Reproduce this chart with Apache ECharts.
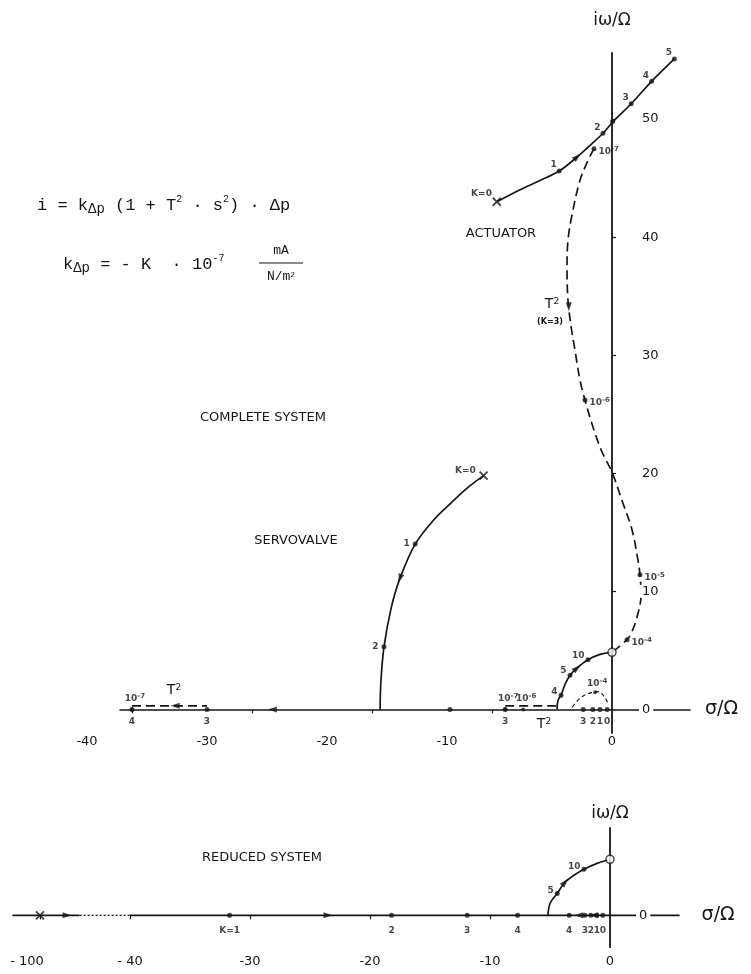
<!DOCTYPE html>
<html><head><meta charset="utf-8">
<script src="https://cdn.jsdelivr.net/npm/echarts@6/dist/echarts.min.js"></script>
<style>html,body{margin:0;padding:0;background:#fff}#c{width:751px;height:974px}</style>
</head><body><div id="c"></div>
<script>
// ================= DATA (σ/Ω , ω/Ω) =================
// ---- Complete system (upper diagram) ----
const actuatorLocus = [[-9.6,43.0],[-7.7,44.0],[-6.0,44.8],[-4.4,45.6],[-2.9,46.8],[-1.8,47.8],[-0.75,48.8],[0.1,49.8],[1.6,51.3],[3.3,53.2],[5.2,55.1]];
const actuatorPole = [[-9.6,43.0]];
const actuatorK = [['1',-4.4,45.6],['2',-0.75,48.8],['3',1.6,51.3],['4',3.3,53.2],['5',5.2,55.1]];
const actuatorCross = [[0.05,49.8]];
const t2Locus = [[-1.5,47.5],[-2.0,46.5],[-2.67,44.8],[-3.33,41.9],[-3.67,39.7],[-3.75,37.2],[-3.67,34.7],[-3.42,32.5],[-3.08,30.4],[-2.67,27.9],[-2.25,26.2],[-1.58,23.9],[-0.83,21.8],[0,20.1],[0.83,17.7],[1.67,15.2],[2.17,12.6],[2.33,11.4],[2.42,9.7],[2.08,7.8],[1.58,6.4],[1.25,5.9],[0,4.83]];
const t2Marks = [['-7',-1.5,47.5],['-6',-2.25,26.2],['-5',2.33,11.4],['-4',1.25,5.9]];
const servoLocus = [[-10.7,19.8],[-12.0,18.8],[-13.4,17.5],[-14.9,16.0],[-16.4,14.0],[-17.67,11.1],[-18.4,8.6],[-19.0,5.3],[-19.25,2.5],[-19.33,0]];
const servoPole = [[-10.7,19.8]];
const servoK = [['1',-16.4,14.0],['2',-19.0,5.3]];
const innerLocus = [[-4.58,0],[-4.5,0.76],[-4.25,1.2],[-3.92,2.1],[-3.5,2.9],[-2.92,3.5],[-2.0,4.2],[-1.0,4.66],[0,4.83]];
const innerK = [['4',-4.25,1.2],['5',-3.5,2.9],['10',-2.0,4.2]];
const completeZero = [[0,4.83]];
const realAxisK = [['4',-40],['3',-33.75],['',-13.5],['3',-8.9],['3',-2.4],['2',-1.6],['1',-1.0],['0',-0.4]];
const realAxisT2 = [['-7',-40],['-7',-8.9],['-6',-7.4]];
const t2RealLeft = [[-40,0.3],[-33.75,0.3]];
const t2RealMid = [[-8.9,0.3],[-4.6,0.3]];
const t2NearOrigin = [[-3.3,0.2],[-2.6,1.0],[-1.8,1.4],[-1.1,1.5],[-0.6,1.0],[-0.25,0.35]];
const t2NearMark = [['-4',-1.4,1.45]];
// arrows: [σ, ω, direction in degrees]
const completeArrows = [[-2.9,46.8,41],[-3.6,34.1,-90],[-17.67,11.1,250],[-2.92,3.5,40],[-28.3,0,180],[-36.4,0.3,180]];
const completeXTicks = [-40,-30,-20,-10,0];
const completeYTicks = [0,10,20,30,40,50];

// ---- Reduced system (lower diagram) ----
const reducedPole = [-100];
const reducedLocus = [[-5.17,0],[-5.0,1.0],[-4.4,1.86],[-3.75,2.8],[-3.0,3.4],[-2.17,3.9],[-1.08,4.4],[0,4.75]];
const reducedK = [['5',-4.4,1.86],['10',-2.17,3.9]];
const reducedRealK = [['K=1',-31.7],['2',-18.2],['3',-11.9],['4',-7.7],['4',-3.4],['3',-2.1],['2',-1.6],['1',-1.1],['0',-0.6]];
const reducedZero = [[0,4.75]];
const reducedArrows = [[-82,0,0],[-23.5,0,0],[-3.75,2.8,50],[-2.6,0,180],[-1.35,0,180]];
const reducedXTicks = [-100,-40,-30,-20,-10,0];
const reducedXTickText = ['- 100','- 40','-30','-20','-10','0'];

// ================= CHART =================
const ink = '#161616';
const SANS = 'DejaVu Sans';
const MONO = 'Liberation Mono';
// broken σ-axis of the reduced system: values below -40 are compressed
const BRK = -40, BRK_SCALE = 0.125;
const brk = s => s >= BRK ? s : BRK + (s - BRK) * BRK_SCALE;
const LOW_MIN = -49.8, LOW_MAX = 5.8, LOW_DOT_START = -44.2;

// grid geometry (px) and axis ranges
const UP = { left: 120, top: 53, width: 570, height: 680, xmin: -41, xmax: 6.5, ymin: -2, ymax: 55.6 };
const LO = { left: 12.4, top: 828, width: 667.2, height: 119.2, xmin: LOW_MIN, xmax: LOW_MAX, ymin: -2.7, ymax: 7.4 };
// offsets that put the axes through the origin
const xOff = g => -(g.height * (0 - g.ymin) / (g.ymax - g.ymin));
const yOff = g => -(g.width * (g.xmax - 0) / (g.xmax - g.xmin));

const supRich = { s: { fontSize: 7, lineHeight: 7, verticalAlign: 'top', fontFamily: SANS, fontWeight: 'bold', color: ink } };

function line(data, g, dashed, z) {
  return { type: 'line', data, xAxisIndex: g, yAxisIndex: g, symbol: 'none', smooth: 0.35, silent: true,
    lineStyle: { color: ink, width: 1.7, type: dashed ? [9, 5] : 'solid' }, z: z || 3 };
}
function dots(items, g, label, extra) {
  return Object.assign({
    type: 'scatter', xAxisIndex: g, yAxisIndex: g, symbol: 'circle', symbolSize: 5,
    itemStyle: { color: ink }, z: 6, silent: true,
    data: items,
    label: Object.assign({ show: true, color: ink, fontFamily: SANS, fontWeight: 'bold', fontSize: 9, lineHeight: 12,
      formatter: p => p.data.t, rich: supRich }, label || {})
  }, extra || {});
}
const kItems = arr => arr.map(d => ({ value: [d[1], d[2]], t: d[0] }));
const powItems = arr => arr.map(d => ({ value: [d[1], d[2]], t: '10{s|' + d[0] + '}' }));
function arrows(arr, g, map) {
  return { type: 'scatter', xAxisIndex: g, yAxisIndex: g, symbol: 'triangle', symbolSize: [6, 9], silent: true,
    itemStyle: { color: ink }, z: 6,
    data: arr.map(a => ({ value: [map ? map(a[0]) : a[0], a[1]], symbolRotate: a[2] - 90 })) };
}
const crossSym = 'path://M0 0 L10 10 M10 0 L0 10';
function pole(data, g, text, label) {
  return { type: 'scatter', xAxisIndex: g, yAxisIndex: g, symbol: crossSym, symbolSize: 8, silent: true,
    itemStyle: { color: 'rgba(0,0,0,0)', borderColor: ink, borderWidth: 1.8 }, z: 7,
    data: data.map(d => ({ value: d, t: text })),
    label: Object.assign({ show: !!text, color: ink, fontFamily: SANS, fontWeight: 'bold', fontSize: 9, formatter: p => p.data.t }, label || {}) };
}
function zero(data, g) {
  return { type: 'scatter', xAxisIndex: g, yAxisIndex: g, symbol: 'circle', symbolSize: 8, silent: true,
    itemStyle: { color: '#fff', borderColor: ink, borderWidth: 1.5 }, z: 12, data };
}

const lowTickVals = reducedXTicks.map(brk);
const lowTickText = v => {
  const i = lowTickVals.findIndex(t => Math.abs(t - v) < 1e-6);
  if (i < 0) return '';
  return i === 0 ? '{m|' + reducedXTickText[i] + '}' : reducedXTickText[i];
};

const axisFont = { color: ink, fontFamily: SANS, fontSize: 13 };
const gridOf = g => ({ left: g.left, top: g.top, width: g.width, height: g.height, containLabel: false, outerBoundsMode: 'none' });
const titleStyle = (x, y, text) => ({ type: 'text', x, y, style: { text, fill: ink, fontFamily: SANS, fontSize: 13, align: 'center', verticalAlign: 'middle' } });
const tSquared = (x, y) => ({ type: 'text', x, y, style: { text: 'T{p|2}', fill: ink, fontFamily: SANS, fontSize: 14, align: 'center', verticalAlign: 'middle',
  rich: { p: { fontFamily: SANS, fontSize: 9, lineHeight: 9, verticalAlign: 'top' } } } });

const option = {
  animation: false,
  backgroundColor: '#fff',
  grid: [gridOf(UP), gridOf(LO)],
  xAxis: [
    { gridIndex: 0, type: 'value', min: UP.xmin, max: UP.xmax, position: 'bottom', offset: xOff(UP),
      axisLine: { onZero: false, lineStyle: { color: ink, width: 1.6 } },
      axisTick: { show: true, customValues: [-40, -30, -20, -10], length: 4, lineStyle: { color: ink, width: 1.2 } },
      axisLabel: Object.assign({ customValues: completeXTicks, margin: 26,
        formatter: v => v === 0 ? '0' : '{a|' + v + '}',
        rich: { a: Object.assign({ padding: [0, 90, 0, 0] }, axisFont) } }, axisFont),
      splitLine: { show: false },
      name: 'σ/Ω', nameLocation: 'end', nameGap: 15,
      nameTextStyle: { color: ink, fontFamily: SANS, fontSize: 19 } },
    { gridIndex: 1, type: 'value', min: LO.xmin, max: LO.xmax, position: 'bottom', offset: xOff(LO),
      axisLine: { show: false, onZero: false },
      axisTick: { show: true, customValues: lowTickVals.filter(v => v !== 0), length: 4, lineStyle: { color: ink, width: 1.2 } },
      axisLabel: Object.assign({ customValues: lowTickVals, margin: 40, formatter: lowTickText,
        rich: { m: Object.assign({ padding: [0, 26, 0, 0] }, axisFont) } }, axisFont),
      splitLine: { show: false },
      name: 'σ/Ω', nameLocation: 'end', nameGap: 22,
      nameTextStyle: { color: ink, fontFamily: SANS, fontSize: 19 } }
  ],
  yAxis: [
    { gridIndex: 0, type: 'value', min: UP.ymin, max: UP.ymax, z: 10, position: 'right', offset: yOff(UP),
      axisLine: { onZero: false, lineStyle: { color: ink, width: 1.8 } },
      axisTick: { show: true, customValues: [10, 20, 30, 40, 50], length: 4, lineStyle: { color: ink, width: 1.2 } },
      axisLabel: Object.assign({ customValues: completeYTicks, margin: 27,
        backgroundColor: '#fff', padding: [0, 3] }, axisFont),
      splitLine: { show: false },
      name: 'iω/Ω', nameLocation: 'end', nameGap: 24,
      nameTextStyle: { color: ink, fontFamily: SANS, fontSize: 17, align: 'center', verticalAlign: 'bottom' } },
    { gridIndex: 1, type: 'value', min: LO.ymin, max: LO.ymax, z: 10, position: 'right', offset: yOff(LO),
      axisLine: { onZero: false, lineStyle: { color: ink, width: 1.8 } },
      axisTick: { show: false },
      axisLabel: Object.assign({ customValues: [0], margin: 26,
        backgroundColor: '#fff', padding: [0, 3] }, axisFont),
      splitLine: { show: false },
      name: 'iω/Ω', nameLocation: 'end', nameGap: 6,
      nameTextStyle: { color: ink, fontFamily: SANS, fontSize: 17, align: 'center', verticalAlign: 'bottom' } }
  ],
  series: [
    // ---- complete system ----
    line(actuatorLocus, 0, false),
    line(t2Locus, 0, true),
    line(servoLocus, 0, false),
    line(innerLocus, 0, false),
    Object.assign(line(t2RealLeft, 0, true), { smooth: false }),
    Object.assign(line(t2RealMid, 0, true), { smooth: false }),
    Object.assign(line(t2NearOrigin, 0, true), { lineStyle: { color: ink, width: 1.2, type: [4, 3] } }),
    pole(actuatorPole, 0, 'K=0', { position: 'left', distance: 2, offset: [2, -8] }),
    pole(servoPole, 0, 'K=0', { position: 'left', distance: 3, offset: [0, -5] }),
    dots(kItems(actuatorK), 0, { position: 'left', distance: 2, offset: [2, -6] }),
    dots(actuatorCross.map(v => ({ value: v, t: '' })), 0),
    dots(powItems(t2Marks), 0, { position: 'right', distance: 2, offset: [0, 3] }),
    dots(kItems(servoK), 0, { position: 'left', distance: 3 }),
    dots(kItems(innerK), 0, { position: 'left', distance: 2, offset: [1, -4] }),
    dots(kItems(realAxisK.map(d => [d[0], d[1], 0])), 0, { position: 'bottom', distance: 4 }),
    dots(powItems(realAxisT2.map(d => [d[0], d[1], 0])), 0, { position: 'top', distance: 3, offset: [3, 0] }, { symbolSize: 4 }),
    dots(powItems(t2NearMark), 0, { position: 'top', distance: 1, offset: [2, 0] }, { symbolSize: 4 }),
    arrows(completeArrows, 0),
    zero(completeZero, 0),
    // ---- reduced system ----
    Object.assign(line([[LOW_MIN, 0], [LOW_DOT_START, 0]], 1, false), { smooth: false }),
    Object.assign(line([[LOW_DOT_START, 0], [BRK, 0]], 1, false), { smooth: false, lineStyle: { color: ink, width: 1.3, type: [2, 2] } }),
    Object.assign(line([[BRK, 0], [LOW_MAX, 0]], 1, false), { smooth: false }),
    line(reducedLocus, 1, false),
    pole(reducedPole.map(s => [brk(s), 0]), 1, ''),
    dots(kItems(reducedRealK.map(d => [d[0], brk(d[1]), 0])), 1, { position: 'bottom', distance: 7 }),
    dots(kItems(reducedK), 1, { position: 'left', distance: 2, offset: [1, -3] }),
    arrows(reducedArrows, 1, brk),
    zero(reducedZero, 1)
  ],
  graphic: [
    { type: 'text', left: 37, top: 194, style: { text: 'i = k{b|Δp} (1 + T{p|2} · s{p|2}) · Δp', fill: ink,
      fontFamily: MONO, fontSize: 17, lineHeight: 22,
      rich: { b: { fontFamily: MONO, fontSize: 14, lineHeight: 12, verticalAlign: 'bottom' },
              p: { fontFamily: MONO, fontSize: 10, lineHeight: 10, verticalAlign: 'top' } } } },
    { type: 'text', left: 63, top: 253, style: { text: 'k{b|Δp} = - K  · 10{p|-7}', fill: ink,
      fontFamily: MONO, fontSize: 17, lineHeight: 22,
      rich: { b: { fontFamily: MONO, fontSize: 14, lineHeight: 12, verticalAlign: 'bottom' },
              p: { fontFamily: MONO, fontSize: 10, lineHeight: 10, verticalAlign: 'top' } } } },
    { type: 'text', x: 281, y: 251, style: { text: 'mA', fill: ink, fontFamily: MONO, fontSize: 13, align: 'center', verticalAlign: 'middle' } },
    { type: 'line', shape: { x1: 259, y1: 263, x2: 303, y2: 263 }, style: { stroke: ink, lineWidth: 1.2 } },
    { type: 'text', x: 281, y: 277, style: { text: 'N/m{p|2}', fill: ink, fontFamily: MONO, fontSize: 13, align: 'center', verticalAlign: 'middle',
      rich: { p: { fontFamily: MONO, fontSize: 8, lineHeight: 8, verticalAlign: 'top' } } } },
    titleStyle(501, 234, 'ACTUATOR'),
    titleStyle(263, 418, 'COMPLETE SYSTEM'),
    titleStyle(296, 541, 'SERVOVALVE'),
    titleStyle(262, 858, 'REDUCED SYSTEM'),
    tSquared(552, 304),
    { type: 'text', x: 550, y: 322, style: { text: '(K=3)', fill: ink, fontFamily: SANS, fontSize: 8, fontWeight: 'bold', align: 'center', verticalAlign: 'middle' } },
    tSquared(544, 724),
    tSquared(174, 690)
  ]
};
echarts.init(document.getElementById('c'), null, { renderer: 'canvas' }).setOption(option);
</script>
</body></html>
